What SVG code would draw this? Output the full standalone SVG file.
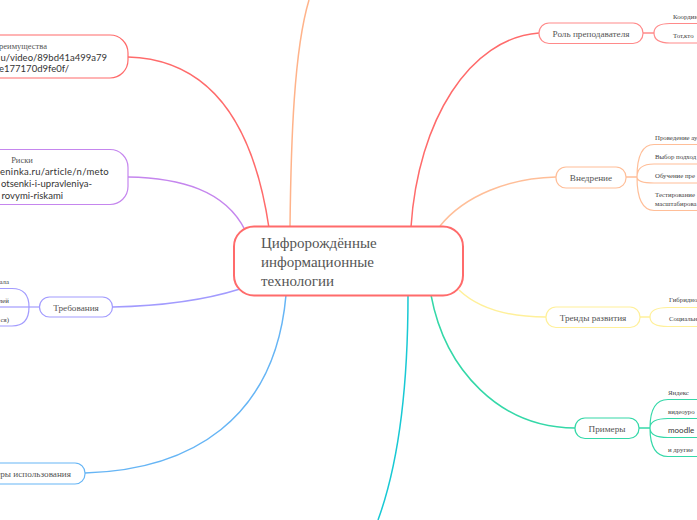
<svg xmlns="http://www.w3.org/2000/svg" width="697" height="520" viewBox="0 0 697 520">
<style>
.n{fill:#fff;stroke-width:1.2}
.c{fill:none;stroke-width:1.5}
.b{fill:none;stroke-width:1.2}
text{font-family:"Liberation Serif",serif;fill:#555}
.m{font-size:9.2px;text-anchor:middle}
.s{font-size:6.800px;fill:#444}
.u{font-family:"Lato","Open Sans",sans-serif;font-size:9.500px;fill:#333}
</style>
<rect width="697" height="520" fill="#fff"/>
<g id="connectors">
<path class="c" stroke="#ff6b6b" d="M128 57C198 59 251 106 269 228"/>
<path class="c" stroke="#c586ee" d="M128 177C180 178 225 190 245 230"/>
<path class="c" stroke="#a29bfe" d="M113 307C160 306 205 300 240 289"/>
<path class="c" stroke="#66b5f5" d="M85 473C190 470 275 420 286 295"/>
<path class="c" stroke="#ffb38a" d="M290 227C291 140 294 50 309 0"/>
<path class="c" stroke="#ff6b6b" d="M411 227C418 120 470 38 539 33"/>
<path class="c" stroke="#ffbe98" d="M440 226C465 195 510 178 556 177"/>
<path class="c" stroke="#fff09a" d="M459 290C480 310 510 317 546 317"/>
<path class="c" stroke="#34d8a8" d="M431 295C445 370 500 428 575 428"/>
<path class="c" stroke="#18c9d4" d="M408 295C408 380 400 460 378 520"/>
<path class="b" stroke="#a29bfe" d="M29 307H39"/>
<path class="c" stroke="#ff8a8a" d="M643 33H654"/>
<path class="c" stroke="#ffbe98" d="M626 177H637"/>
<path class="c" stroke="#fff09a" d="M640 317H650"/>
<path class="c" stroke="#34d8a8" d="M639 428H650"/>
</g>
<g id="center"><rect x="234" y="226.500" width="229" height="69" rx="20" fill="#fff" stroke="#ff6b6b" stroke-width="2"/>
<text x="261" y="248" font-size="15px" fill="#333">Цифророждённые</text>
<text x="261" y="267" font-size="15px" fill="#333">информационные</text>
<text x="261" y="286" font-size="15px" fill="#333">технологии</text></g>
<g id="advantages"><rect class="n" x="-60" y="35" width="188" height="43" rx="18" stroke="#ff6b6b"/>
<text x="47" y="49" font-size="8.500px" text-anchor="end">реимущества</text>
<text class="u" x="107" y="60.500" text-anchor="end">u/video/89bd41a499a79</text>
<text class="u" x="69" y="72" text-anchor="end">e177170d9fe0f/</text></g>
<g id="risks"><rect class="n" x="-60" y="149.500" width="188" height="55" rx="18" stroke="#c586ee"/>
<text x="22" y="163" font-size="8.500px" text-anchor="middle">Риски</text>
<text class="u" x="109" y="175" text-anchor="end" letter-spacing=".25">eninka.ru/article/n/meto</text>
<text class="u" x="92" y="187" text-anchor="end">otsenki-i-upravleniya-</text>
<text class="u" x="63" y="198.500" text-anchor="end">rovymi-riskami</text></g>
<g id="requirements"><rect class="n" x="39.500" y="297" width="73" height="20" rx="10" stroke="#a29bfe"/>
<text class="m" x="76" y="311">Требования</text></g>
<g id="requirements-sub"><path class="b" stroke="#a29bfe" d="M0 288.500H12Q29 288.500 29 307Q29 326 12 326H0"/><path class="b" stroke="#a29bfe" d="M0 307H29"/>
<text class="s" x="9" y="283.500" text-anchor="end">бала</text>
<text class="s" x="9" y="302.500" text-anchor="end">лей</text>
<text class="s" x="9" y="321.500" text-anchor="end">ся)</text></g>
<g id="usage"><rect class="n" x="-60" y="463" width="145" height="21" rx="10" stroke="#66b5f5"/>
<text x="71" y="477" font-size="9.200px" text-anchor="end">еры использования</text></g>
<g id="teacher-role"><rect class="n" x="539" y="23" width="104" height="20.500" rx="10" stroke="#ff8a8a"/>
<text class="m" x="591" y="37">Роль преподавателя</text></g>
<g id="teacher-sub"><path class="b" stroke="#ff8a8a" d="M697 23.500H670Q654 23.500 654 33Q654 43 670 43H697"/>
<text class="s" x="673" y="19">Координ</text><text class="s" x="673" y="38">Тот,кто</text></g>
<g id="implementation"><rect class="n" x="556" y="167" width="70" height="21" rx="10" stroke="#ffbe98"/>
<text class="m" x="591" y="181">Внедрение</text></g>
<g id="implementation-sub"><path class="b" stroke="#ffbe98" d="M697 144.500H654Q637 144.500 637 177Q637 210 654 210.500H697M697 164H654Q637 164 637 177Q637 183 654 183H697"/>
<text class="s" x="655" y="140">Проведение ау</text><text class="s" x="655" y="159">Выбор подход</text><text class="s" x="655" y="178">Обучение пре</text>
<text class="s" x="655" y="197">Тестирование</text><text class="s" x="655" y="206">масштабирова</text></g>
<g id="trends"><rect class="n" x="546" y="307" width="94" height="20.500" rx="10" stroke="#fff09a"/>
<text class="m" x="593" y="321">Тренды развития</text></g>
<g id="trends-sub"><path class="b" stroke="#fff09a" d="M697 307.500H668Q650 307.500 650 317Q650 326.500 668 326.500H697"/>
<text class="s" x="669" y="302">Гибридно</text><text class="s" x="669" y="321">Социальн</text></g>
<g id="examples"><rect class="n" x="575" y="418" width="64" height="20.500" rx="10" stroke="#34d8a8"/>
<text class="m" x="607" y="432">Примеры</text></g>
<g id="examples-sub"><path class="b" stroke="#34d8a8" d="M697 399.500H668Q650 399.500 650 428Q650 456.500 668 456.500H697M697 418.500H668Q650 418.500 650 428Q650 437.500 668 437.500H697"/>
<text class="s" x="668" y="395">Яндекс</text><text class="s" x="668" y="414">видеоуро</text><text class="u" x="668" y="433" style="font-size:8px">moodle</text><text class="s" x="668" y="452">и другие</text></g>
</svg>
